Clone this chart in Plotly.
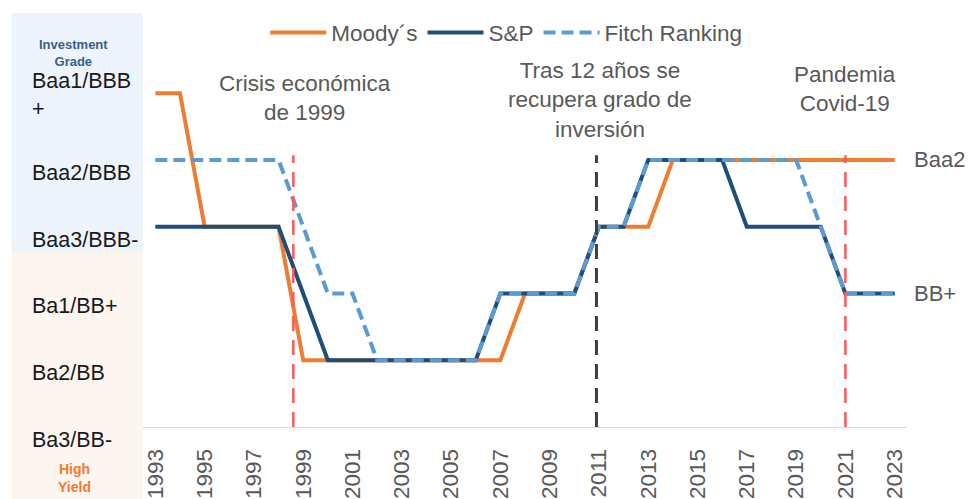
import plotly.graph_objects as go

years = list(range(1993, 2024))
moodys = [5, 5, 3, 3, 3, 3, 1, 1, 1, 1, 1, 1, 1, 1, 1, 2, 2, 2, 3, 3, 3, 4, 4, 4, 4, 4, 4, 4, 4, 4, 4]
sp = [3, 3, 3, 3, 3, 3, 2, 1, 1, 1, 1, 1, 1, 1, 2, 2, 2, 2, 3, 3, 4, 4, 4, 4, 3, 3, 3, 3, 2, 2, 2]
fitch = [4, 4, 4, 4, 4, 4, 3, 2, 2, 1, 1, 1, 1, 1, 2, 2, 2, 2, 3, 3, 4, 4, 4, 4, 4, 4, 4, 3, 2, 2, 2]

rating_levels = [0, 1, 2, 3, 4, 5]
rating_labels = ["Ba3/BB-", "Ba2/BB", "Ba1/BB+", "Baa3/BBB-", "Baa2/BBB", "Baa1/BBB<br>+"]
tick_years = list(range(1993, 2024, 2))

event_years = [1998.6, 2010.9, 2021]
event_colors = ["#FF5A5A", "#404040", "#FF5A5A"]
event_top = 4.07

notes = ["Crisis económica<br>de 1999", "Tras 12 años se<br>recupera grado de<br>inversión", "Pandemia<br>Covid-19"]
note_x = [1999.07, 2011.04, 2021.0]
note_y = [4.93, 4.89, 5.06]

end_labels = ["Baa2", "BB+"]
end_levels = [4, 2]

GRAY = "#595959"
FONT = "Liberation Sans, Arial, sans-serif"

fig = go.Figure()
fig.add_trace(go.Scatter(x=years, y=moodys, mode="lines", name="Moody´s",
                         line=dict(color="#ED7D31", width=4)))
fig.add_trace(go.Scatter(x=years, y=sp, mode="lines", name="S&P",
                         line=dict(color="#1F4E79", width=4)))
fig.add_trace(go.Scatter(x=years, y=fitch, mode="lines", name="Fitch Ranking",
                         line=dict(color="#5B9BD5", width=4, dash="12px,6px")))

shapes = []
# background bands on the left
shapes.append(dict(type="rect", xref="paper", yref="paper", x0=-0.172, x1=0.0,
                   y0=0.4227, y1=1.0, fillcolor="#EEF4FB", line_width=0, layer="below"))
shapes.append(dict(type="rect", xref="paper", yref="paper", x0=-0.172, x1=0.0,
                   y0=-0.18, y1=0.4227, fillcolor="#FDF5F0", line_width=0, layer="below"))
for xv, col in zip(event_years, event_colors):
    shapes.append(dict(type="line", xref="x", yref="y", x0=xv, x1=xv, y0=0, y1=event_top,
                       line=dict(color=col, width=2.5 if col != "#404040" else 3, dash="15px,9px"),
                       layer="above"))

annotations = []
for lvl, lab in zip(rating_levels, rating_labels):
    annotations.append(dict(xref="paper", yref="y", x=-0.148, y=lvl, text=lab,
                            showarrow=False, xanchor="left", yanchor="middle", align="left",
                            yshift=-2 if "<br>" in lab else -13,
                            font=dict(size=21.5, color="#1a1a1a", family=FONT)))
annotations.append(dict(xref="paper", yref="paper", x=-0.0908, y=0.904,
                        text="<b>Investment<br>Grade</b>", showarrow=False,
                        xanchor="center", yanchor="middle",
                        font=dict(size=13, color="#3A5F8C", family=FONT)))
annotations.append(dict(xref="paper", yref="paper", x=-0.0895, y=-0.124,
                        text="<b>High<br>Yield</b>", showarrow=False,
                        xanchor="center", yanchor="middle",
                        font=dict(size=14, color="#F47A2C", family=FONT)))
for t, xv, yv in zip(notes, note_x, note_y):
    annotations.append(dict(xref="x", yref="y", x=xv, y=yv, text=t, showarrow=False,
                            xanchor="center", yanchor="middle",
                            font=dict(size=22.5, color=GRAY, family=FONT)))
for t, lv in zip(end_labels, end_levels):
    annotations.append(dict(xref="x", yref="y", x=years[-1], y=lv, text=t, showarrow=False,
                            xanchor="left", yanchor="middle", xshift=17,
                            font=dict(size=22, color=GRAY, family=FONT)))

fig.update_layout(
    width=968, height=499,
    margin=dict(l=143, r=61, t=13, b=72, autoexpand=False),
    paper_bgcolor="white", plot_bgcolor="white",
    font=dict(family=FONT, size=22, color=GRAY),
    showlegend=True,
    legend=dict(orientation="h", x=0.16, y=0.952, xanchor="left", yanchor="middle",
                bgcolor="rgba(0,0,0,0)", font=dict(size=22.5, color=GRAY),
                itemwidth=56, tracegroupgap=0),
    shapes=shapes,
    annotations=annotations,
    xaxis=dict(range=[1992.5, 2023.5], tickmode="array", tickvals=tick_years,
               ticktext=[str(y) for y in tick_years], tickangle=-90,
               showgrid=False, zeroline=False, showline=True, linecolor="#D9D9D9",
               linewidth=1, ticks="", ticklabelstandoff=12, automargin=False,
               tickfont=dict(size=22.5, color=GRAY, family=FONT)),
    yaxis=dict(range=[0, 6.2], showticklabels=False, showgrid=False, zeroline=False,
               showline=False, ticks="", automargin=False),
)

fig.write_html("out.html", config={"displayModeBar": False},
               post_script="document.body.style.margin='0';document.body.style.padding='0';")
